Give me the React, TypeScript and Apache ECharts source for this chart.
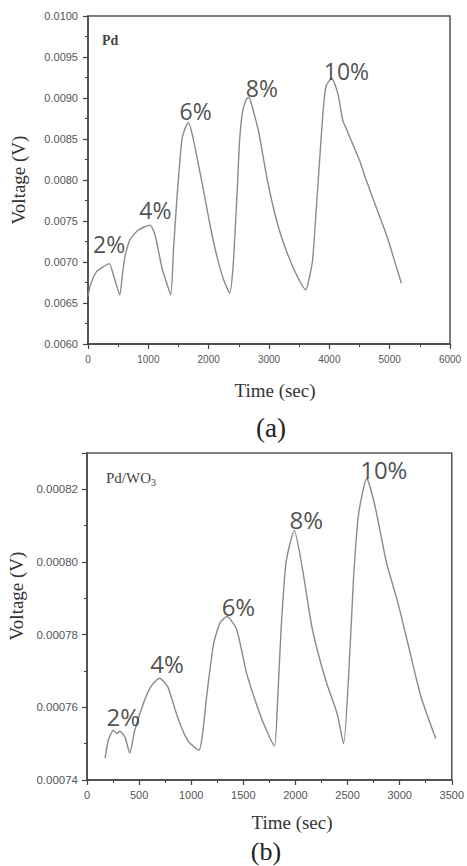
import React, { useEffect, useRef } from "react";
import * as echarts from "echarts";

// Panel (a): Pd sensor response
const pdTime = [
  0, 40, 138, 250, 350, 430, 528, 570, 611, 695, 833, 1028, 1111, 1222, 1300, 1372,
  1417, 1472, 1556, 1620, 1667, 1720, 1806, 1944, 2028, 2139, 2250, 2350, 2400, 2440,
  2475, 2510, 2556, 2620, 2667, 2720, 2833, 2972, 3139, 3306, 3472, 3611, 3660, 3722, 3778,
  3817, 3889, 3944, 4039, 4139, 4222, 4278, 4500, 4611, 4806, 4917, 5000, 5111, 5194,
];
const pdVolt = [
  0.00658, 0.00672, 0.00688, 0.00694, 0.00698, 0.00682, 0.0066, 0.00685, 0.00706, 0.00727,
  0.00739, 0.00745, 0.00733, 0.00694, 0.00675, 0.0066, 0.00715, 0.00776, 0.00849, 0.00865,
  0.0087, 0.00858, 0.00828, 0.00776, 0.00743, 0.00706, 0.00678, 0.00662, 0.0069, 0.0074,
  0.0079, 0.00845, 0.00881, 0.00898, 0.00901, 0.0089, 0.00857, 0.008, 0.00747, 0.0071, 0.00682,
  0.00666, 0.00678, 0.00702, 0.00759, 0.008, 0.00877, 0.00914, 0.00924, 0.00906, 0.00873,
  0.00863, 0.00824, 0.008, 0.00761, 0.00739, 0.00721, 0.00694, 0.00674,
];

// Panel (b): Pd/WO3 sensor response
const wo3Time = [
  174, 205, 253, 284, 316, 364, 411, 458, 553, 620, 695, 774, 868, 963, 1074, 1105, 1152,
  1216, 1278, 1342, 1436, 1531, 1657, 1736, 1799, 1831, 1862, 1910, 1989, 2068, 2163,
  2289, 2400, 2462, 2525, 2557, 2604, 2684, 2762, 2873, 2983, 3078, 3204, 3346,
];
const wo3Volt = [
  0.000746, 0.000751, 0.0007537, 0.0007528, 0.0007534, 0.0007518, 0.0007474, 0.0007537,
  0.000762, 0.000766, 0.000768, 0.0007657, 0.0007574, 0.000751, 0.0007482, 0.0007518,
  0.000764, 0.0007777, 0.0007833, 0.000785, 0.0007814, 0.0007694, 0.0007583, 0.0007528,
  0.0007493, 0.000763, 0.0007814, 0.0007999, 0.0008087, 0.000798, 0.0007814, 0.0007676,
  0.0007583, 0.00075, 0.0007768, 0.0007953, 0.0008128, 0.000823, 0.0008156, 0.0007999,
  0.0007888, 0.0007777, 0.000763, 0.0007514,
];

// Hydrogen concentration tags placed near each peak
const concLabels = ["2%", "4%", "6%", "8%", "10%"];
const pdTagTime = [350, 1117, 1783, 2883, 4283];
const pdTagVolt = [0.00722, 0.00763, 0.00884, 0.00912, 0.00933];
const wo3TagTime = [348, 769, 1453, 2104, 2848];
const wo3TagVolt = [0.0007576, 0.000772, 0.0007877, 0.0008116, 0.0008255];

const AXIS_COLOR = "#444";
const LABEL_COLOR = "#555";
const SERIF = "'Liberation Serif', 'DejaVu Serif', serif";
const SANS = "'Liberation Sans', Arial, sans-serif";

function zip(xs: number[], ys: number[]) {
  return xs.map((x, i) => [x, ys[i]]);
}

function valueAxis(gridIndex: number, extra: any) {
  return {
    type: "value",
    gridIndex,
    axisLine: { show: true, lineStyle: { color: AXIS_COLOR, width: 1.5 } },
    axisTick: { show: true, inside: false, length: 5, lineStyle: { color: AXIS_COLOR, width: 1.2 } },
    minorTick: { show: true, splitNumber: 2, length: 3, lineStyle: { color: AXIS_COLOR, width: 1 } },
    splitLine: { show: false },
    minorSplitLine: { show: false },
    ...extra,
  };
}

export default function App() {
  const ref = useRef<HTMLDivElement>(null);

  useEffect(() => {
    if (!ref.current) return;
    const chart = echarts.init(ref.current, null, { renderer: "svg" });

    const tagSeries = (xi: number, times: number[], volts: number[], size: number) => ({
      type: "scatter",
      xAxisIndex: xi,
      yAxisIndex: xi,
      symbolSize: 1,
      itemStyle: { color: "rgba(0,0,0,0)" },
      silent: true,
      z: 5,
      data: times.map((t, i) => [t, volts[i], concLabels[i]]),
      label: {
        show: true,
        position: "inside",
        formatter: (p: any) => p.data[2],
        fontFamily: "'Open Sans', 'Noto Sans', sans-serif",
        fontSize: size,
        color: "#222",
      },
    });

    chart.setOption({
      animation: false,
      backgroundColor: "#fff",
      grid: [
        { left: 88, top: 16, width: 362, height: 328, show: true, borderColor: "#555", borderWidth: 1.5, backgroundColor: "transparent" },
        { left: 87, top: 453, width: 372, height: 327, show: true, borderColor: "#555", borderWidth: 1.5, backgroundColor: "transparent" },
      ],
      xAxis: [
        valueAxis(0, {
          min: 0,
          max: 6000,
          interval: 1000,
          axisLabel: { margin: 10, fontSize: 10, fontFamily: SANS, color: LABEL_COLOR, formatter: (v: number) => String(v) },
        }),
        valueAxis(1, {
          min: 0,
          max: 3500,
          interval: 500,
          axisLabel: { margin: 9, fontSize: 11, fontFamily: SANS, color: LABEL_COLOR, formatter: (v: number) => String(v) },
        }),
      ],
      yAxis: [
        valueAxis(0, {
          min: 0.006,
          max: 0.01,
          interval: 0.0005,
          axisLabel: {
            margin: 10,
            fontSize: 11,
            fontFamily: SANS,
            color: LABEL_COLOR,
            formatter: (v: number) => v.toFixed(4),
          },
        }),
        valueAxis(1, {
          min: 0.00074,
          max: 0.00083,
          interval: 0.00002,
          axisLabel: {
            margin: 9,
            fontSize: 11.5,
            fontFamily: SANS,
            color: LABEL_COLOR,
            showMaxLabel: false,
            formatter: (v: number) => v.toFixed(5),
          },
        }),
      ],
      series: [
        {
          type: "line",
          xAxisIndex: 0,
          yAxisIndex: 0,
          data: zip(pdTime, pdVolt),
          showSymbol: false,
          smooth: 0.2,
          lineStyle: { color: "#8a8a8a", width: 1.4 },
        },
        {
          type: "line",
          xAxisIndex: 1,
          yAxisIndex: 1,
          data: zip(wo3Time, wo3Volt),
          showSymbol: false,
          smooth: 0.2,
          lineStyle: { color: "#8a8a8a", width: 1.4 },
        },
        tagSeries(0, pdTagTime, pdTagVolt, 23),
        tagSeries(1, wo3TagTime, wo3TagVolt, 24),
      ],
      graphic: [
        { type: "text", x: 18, y: 180, rotation: Math.PI / 2, style: { text: "Voltage (V)", font: `19px ${SERIF}`, fill: "#333", align: "center", verticalAlign: "middle" } },
        { type: "text", x: 16, y: 596, rotation: Math.PI / 2, style: { text: "Voltage (V)", font: `19px ${SERIF}`, fill: "#333", align: "center", verticalAlign: "middle" } },
        { type: "text", x: 275, y: 390, style: { text: "Time (sec)", font: `19px ${SERIF}`, fill: "#333", align: "center", verticalAlign: "middle" } },
        { type: "text", x: 292, y: 822, style: { text: "Time (sec)", font: `19px ${SERIF}`, fill: "#333", align: "center", verticalAlign: "middle" } },
        { type: "text", x: 271, y: 428, style: { text: "(a)", font: `27px ${SERIF}`, fill: "#222", align: "center", verticalAlign: "middle" } },
        { type: "text", x: 266, y: 851, style: { text: "(b)", font: `26px ${SERIF}`, fill: "#222", align: "center", verticalAlign: "middle" } },
        { type: "text", x: 102, y: 40, style: { text: "Pd", font: `bold 14px ${SERIF}`, fill: "#444", align: "left", verticalAlign: "middle" } },
        {
          type: "text",
          x: 106,
          y: 478,
          style: {
            text: "{m|Pd/WO}{s|3}",
            align: "left",
            verticalAlign: "middle",
            rich: {
              m: { font: `15px ${SERIF}`, fill: "#444" },
              s: { font: `10px ${SERIF}`, fill: "#444", padding: [8, 0, 0, 0] },
            },
          },
        },
      ],
    });

    return () => chart.dispose();
  }, []);

  return (
    <div
      ref={ref}
      style={{ position: "absolute", left: 0, top: 0, width: 467, height: 866 }}
    />
  );
}
